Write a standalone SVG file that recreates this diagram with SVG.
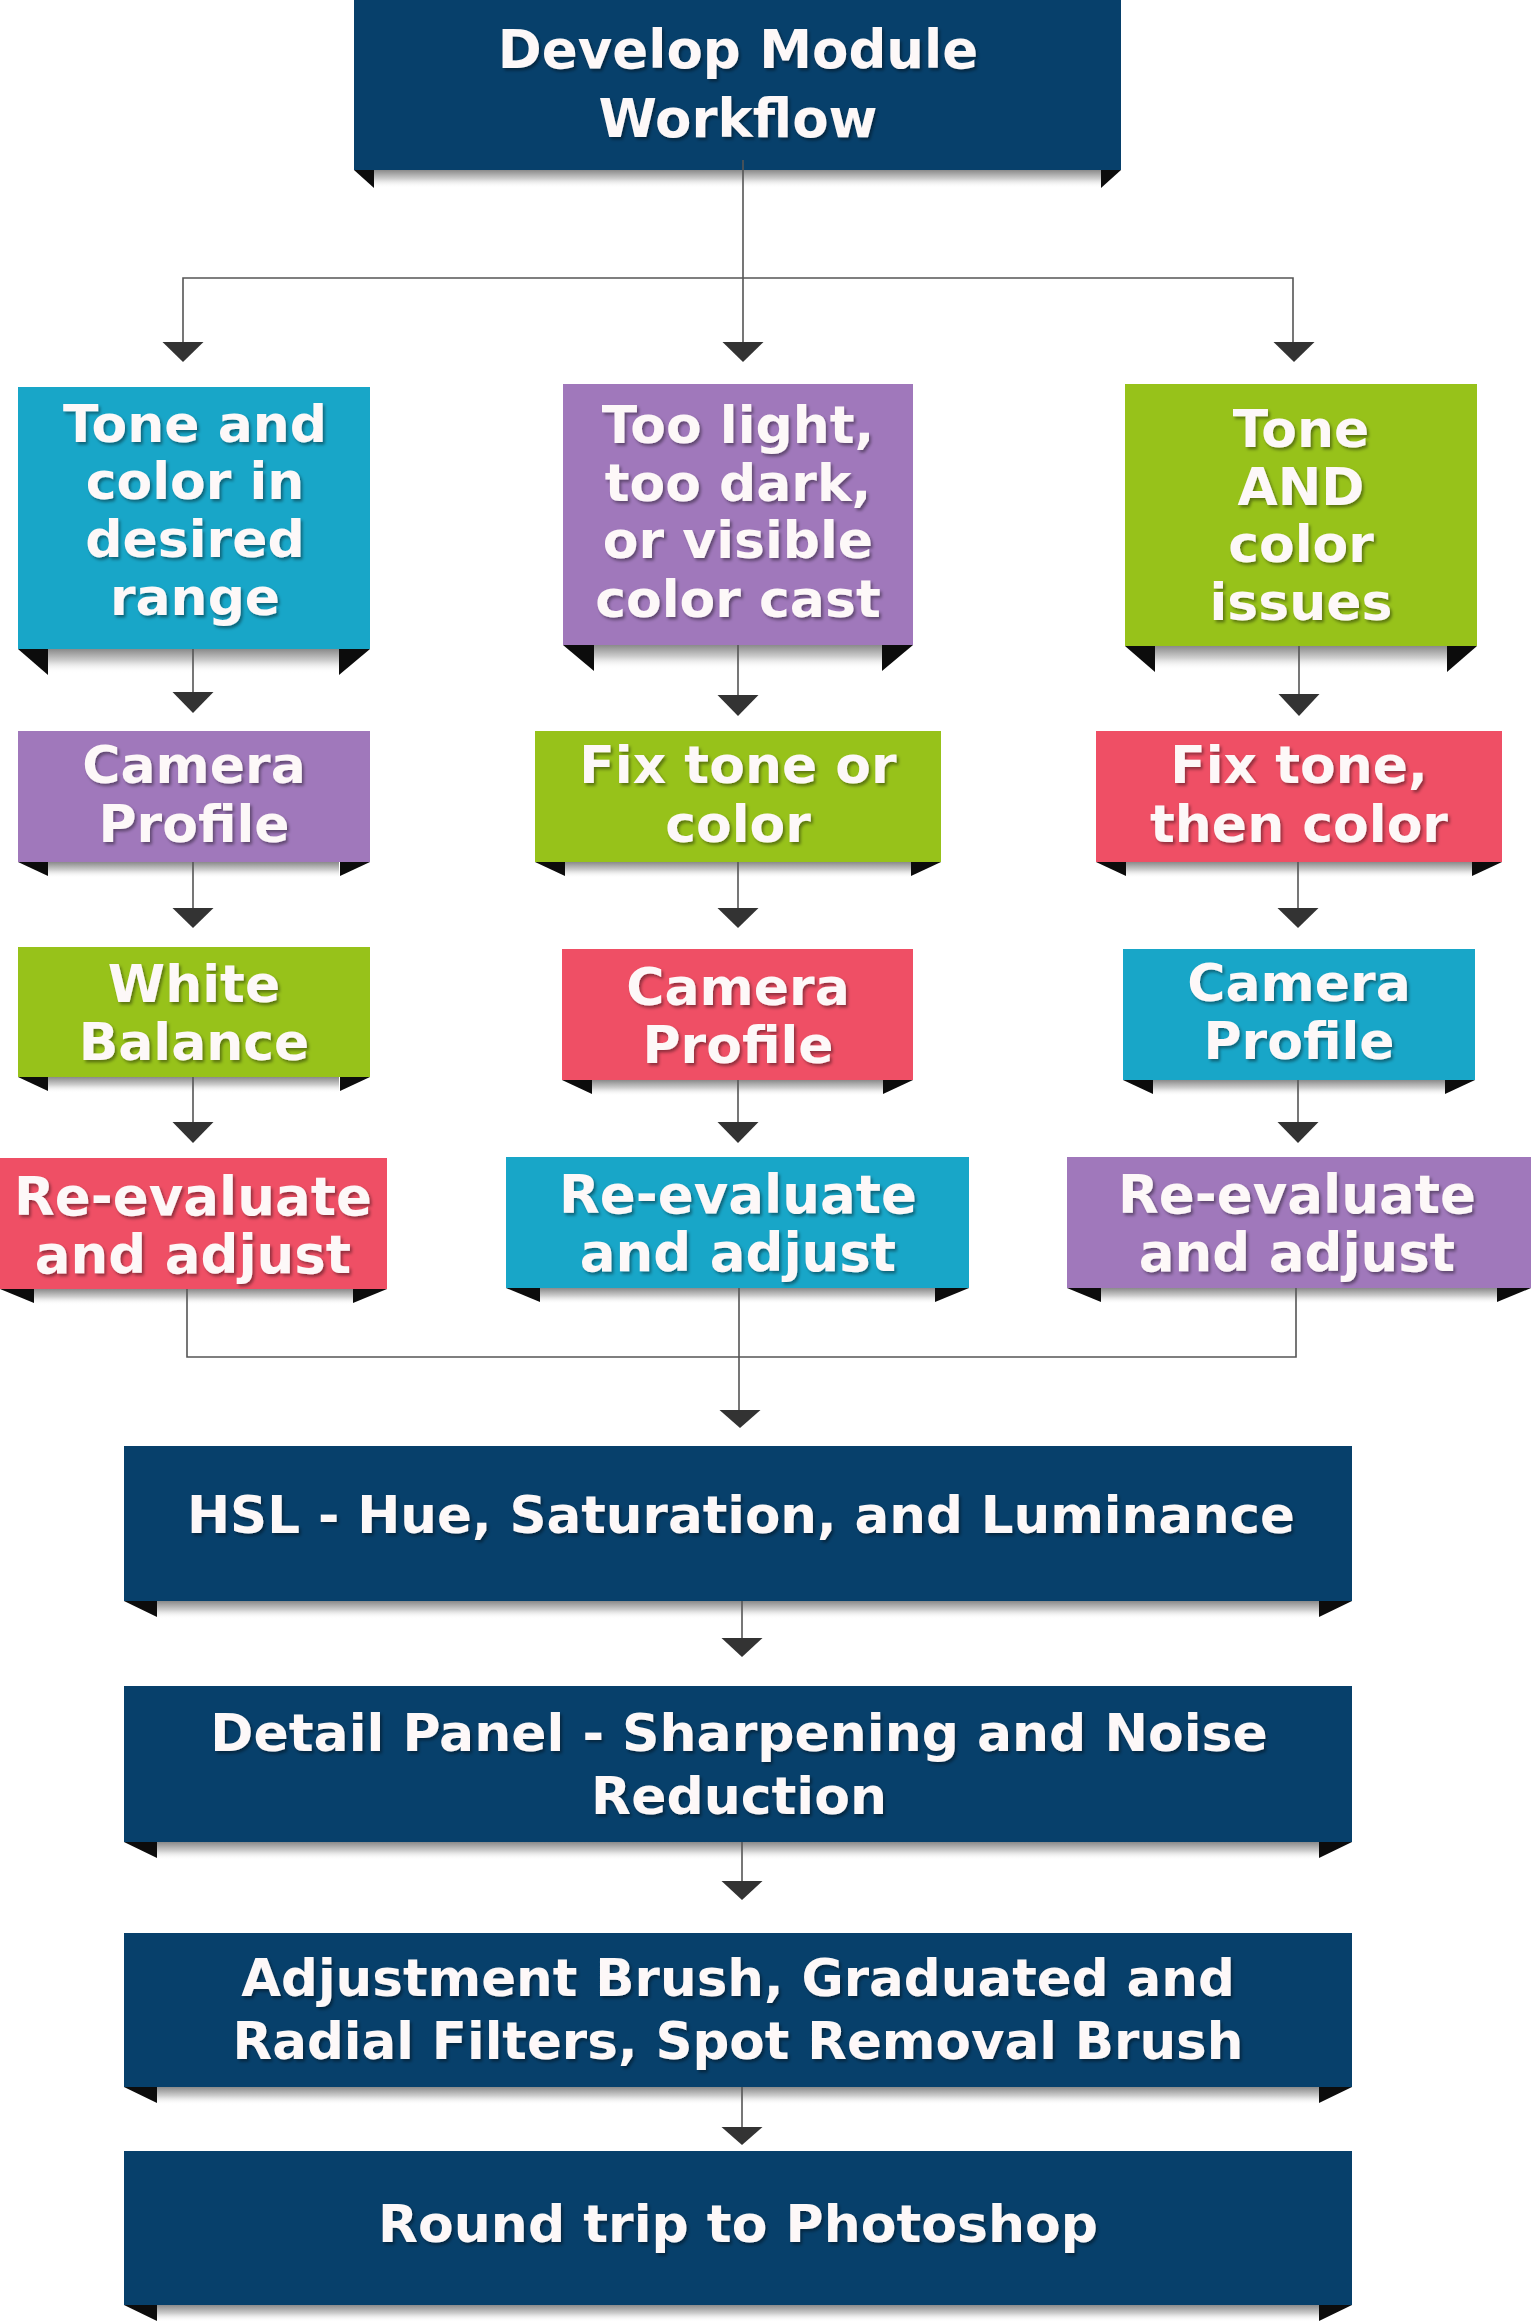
<svg xmlns="http://www.w3.org/2000/svg" width="1531" height="2322" viewBox="0 0 1531 2322">
<defs>
<style>
.t{font-family:"DejaVu Sans","Liberation Sans",sans-serif;font-weight:bold;fill:#fdf8f8;text-anchor:middle;filter:url(#ts)}
.s52{font-size:52px}
.s53{font-size:53px}
.navy{fill:#07406b}
.teal{fill:#18a6c8}
.purple{fill:#a078bb}
.green{fill:#97c21a}
.red{fill:#ef4f65}
.tab{fill:#0c0c0c}
.sh{fill:url(#shg)}
.ln{stroke:#555;stroke-width:1.6;fill:none}
.ah{fill:#333}
</style>
<filter id="ts" x="-10%" y="-30%" width="120%" height="160%">
<feDropShadow dx="2" dy="2.5" stdDeviation="1.6" flood-color="#000" flood-opacity="0.4"/>
</filter>
<linearGradient id="shg" x1="0" y1="0" x2="0" y2="1">
<stop offset="0" stop-color="#8a8a8a"/>
<stop offset="0.5" stop-color="#d0d0d0"/>
<stop offset="1" stop-color="#fff" stop-opacity="0"/>
</linearGradient>
</defs>
<rect width="1531" height="2322" fill="#fff"/>

<g id="n-top">
<rect class="sh" x="374" y="170" width="727" height="18"/>
<rect class="navy" x="354" y="0" width="767" height="170"/>
<path class="tab" d="M354 170H374V188Z"/>
<path class="tab" d="M1121 170H1101V188Z"/>
<text class="t s53" x="738" y="68">Develop Module</text>
<text class="t s53" x="738" y="137">Workflow</text>
</g>

<g id="n-l1">
<rect class="sh" x="48" y="649" width="291" height="24"/>
<rect class="teal" x="18" y="387" width="352" height="262"/>
<path class="tab" d="M18 649H48V675Z"/>
<path class="tab" d="M370 649H339V675Z"/>
<text class="t s52" x="195" y="442">Tone and</text>
<text class="t s52" x="195" y="499">color in</text>
<text class="t s52" x="195" y="557">desired</text>
<text class="t s52" x="195" y="615">range</text>
</g>

<g id="n-m1">
<rect class="sh" x="593" y="645" width="290" height="24"/>
<rect class="purple" x="563" y="384" width="350" height="261"/>
<path class="tab" d="M563 645H594V671Z"/>
<path class="tab" d="M913 645H882V671Z"/>
<text class="t s52" x="738" y="443">Too light,</text>
<text class="t s52" x="738" y="501">too dark,</text>
<text class="t s52" x="738" y="558">or visible</text>
<text class="t s52" x="738" y="617">color cast</text>
</g>

<g id="n-r1">
<rect class="sh" x="1155" y="646" width="292" height="24"/>
<rect class="green" x="1125" y="384" width="352" height="262"/>
<path class="tab" d="M1125 646H1155V672Z"/>
<path class="tab" d="M1477 646H1447V672Z"/>
<text class="t s52" x="1301" y="447">Tone</text>
<text class="t s52" x="1301" y="505">AND</text>
<text class="t s52" x="1301" y="562">color</text>
<text class="t s52" x="1301" y="620">issues</text>
</g>

<g id="n-l2">
<rect class="sh" x="48" y="862" width="291" height="16"/>
<rect class="purple" x="18" y="731" width="352" height="131"/>
<path class="tab" d="M18 862H48V876Z"/>
<path class="tab" d="M370 862H340V876Z"/>
<text class="t s52" x="194" y="783">Camera</text>
<text class="t s52" x="194" y="842">Profile</text>
</g>

<g id="n-m2">
<rect class="sh" x="565" y="862" width="346" height="16"/>
<rect class="green" x="535" y="731" width="406" height="131"/>
<path class="tab" d="M535 862H565V876Z"/>
<path class="tab" d="M941 862H911V876Z"/>
<text class="t s52" x="738" y="783">Fix tone or</text>
<text class="t s52" x="738" y="842">color</text>
</g>

<g id="n-r2">
<rect class="sh" x="1126" y="862" width="346" height="16"/>
<rect class="red" x="1096" y="731" width="406" height="131"/>
<path class="tab" d="M1096 862H1126V876Z"/>
<path class="tab" d="M1502 862H1472V876Z"/>
<text class="t s52" x="1299" y="783">Fix tone,</text>
<text class="t s52" x="1299" y="842">then color</text>
</g>

<g id="n-l3">
<rect class="sh" x="48" y="1077" width="291" height="16"/>
<rect class="green" x="18" y="947" width="352" height="130"/>
<path class="tab" d="M18 1077H48V1091Z"/>
<path class="tab" d="M370 1077H340V1091Z"/>
<text class="t s52" x="194" y="1002">White</text>
<text class="t s52" x="194" y="1060">Balance</text>
</g>

<g id="n-m3">
<rect class="sh" x="592" y="1080" width="291" height="16"/>
<rect class="red" x="562" y="949" width="351" height="131"/>
<path class="tab" d="M562 1080H592V1094Z"/>
<path class="tab" d="M913 1080H883V1094Z"/>
<text class="t s52" x="738" y="1005">Camera</text>
<text class="t s52" x="738" y="1063">Profile</text>
</g>

<g id="n-r3">
<rect class="sh" x="1153" y="1080" width="292" height="16"/>
<rect class="teal" x="1123" y="949" width="352" height="131"/>
<path class="tab" d="M1123 1080H1153V1094Z"/>
<path class="tab" d="M1475 1080H1445V1094Z"/>
<text class="t s52" x="1299" y="1001">Camera</text>
<text class="t s52" x="1299" y="1059">Profile</text>
</g>

<g id="n-l4">
<rect class="sh" x="34" y="1289" width="319" height="16"/>
<rect class="red" x="0" y="1158" width="387" height="131"/>
<path class="tab" d="M0 1289H34V1303Z"/>
<path class="tab" d="M387 1289H353V1303Z"/>
<text class="t s53" x="193" y="1215">Re-evaluate</text>
<text class="t s53" x="193" y="1273">and adjust</text>
</g>

<g id="n-m4">
<rect class="sh" x="540" y="1288" width="395" height="16"/>
<rect class="teal" x="506" y="1157" width="463" height="131"/>
<path class="tab" d="M506 1288H540V1302Z"/>
<path class="tab" d="M969 1288H935V1302Z"/>
<text class="t s53" x="738" y="1213">Re-evaluate</text>
<text class="t s53" x="738" y="1271">and adjust</text>
</g>

<g id="n-r4">
<rect class="sh" x="1101" y="1288" width="396" height="16"/>
<rect class="purple" x="1067" y="1157" width="464" height="131"/>
<path class="tab" d="M1067 1288H1101V1302Z"/>
<path class="tab" d="M1531 1288H1497V1302Z"/>
<text class="t s53" x="1297" y="1213">Re-evaluate</text>
<text class="t s53" x="1297" y="1271">and adjust</text>
</g>

<g id="n-hsl">
<rect class="sh" x="157" y="1601" width="1162" height="18"/>
<rect class="navy" x="124" y="1446" width="1228" height="155"/>
<path class="tab" d="M124 1601H157V1617Z"/>
<path class="tab" d="M1352 1601H1319V1617Z"/>
<text class="t" style="font-size:51.5px" x="741" y="1533">HSL - Hue, Saturation, and Luminance</text>
</g>

<g id="n-detail">
<rect class="sh" x="157" y="1842" width="1162" height="18"/>
<rect class="navy" x="124" y="1686" width="1228" height="156"/>
<path class="tab" d="M124 1842H157V1858Z"/>
<path class="tab" d="M1352 1842H1319V1858Z"/>
<text class="t s52" x="739" y="1751">Detail Panel - Sharpening and Noise</text>
<text class="t s52" x="739" y="1814">Reduction</text>
</g>

<g id="n-adjust">
<rect class="sh" x="157" y="2087" width="1162" height="18"/>
<rect class="navy" x="124" y="1933" width="1228" height="154"/>
<path class="tab" d="M124 2087H157V2103Z"/>
<path class="tab" d="M1352 2087H1319V2103Z"/>
<text class="t" style="font-size:51.5px" x="738" y="1996">Adjustment Brush, Graduated and</text>
<text class="t" style="font-size:51.5px" x="738" y="2059">Radial Filters, Spot Removal Brush</text>
</g>

<g id="n-round">
<rect class="sh" x="157" y="2305" width="1162" height="17"/>
<rect class="navy" x="124" y="2151" width="1228" height="154"/>
<path class="tab" d="M124 2305H157V2321Z"/>
<path class="tab" d="M1352 2305H1319V2321Z"/>
<text class="t s52" x="738" y="2242">Round trip to Photoshop</text>
</g>

<g id="connectors">
<path class="ln" d="M743 160V342M183 342V278H1293V342"/>
<path class="ah" d="M162.5 342H203.5L183 362Z"/>
<path class="ah" d="M722.5 342H763.5L743 362Z"/>
<path class="ah" d="M1273.5 342H1314.5L1294 362Z"/>

<path class="ln" d="M193 649V692M738 645V695M1299 646V694"/>
<path class="ah" d="M172.5 692H213.5L193 713Z"/>
<path class="ah" d="M717.5 695H758.5L738 716Z"/>
<path class="ah" d="M1278.5 694H1319.5L1299 716Z"/>

<path class="ln" d="M193 862V908M738 862V908M1298 862V908"/>
<path class="ah" d="M172.5 908H213.5L193 928Z"/>
<path class="ah" d="M717.5 908H758.5L738 928Z"/>
<path class="ah" d="M1277.5 908H1318.5L1298 928Z"/>

<path class="ln" d="M193 1077V1122M738 1080V1122M1298 1080V1122"/>
<path class="ah" d="M172.5 1122H213.5L193 1143Z"/>
<path class="ah" d="M717.5 1122H758.5L738 1143Z"/>
<path class="ah" d="M1277.5 1122H1318.5L1298 1143Z"/>

<path class="ln" d="M187 1289V1357H1296V1288M739 1288V1410"/>
<path class="ah" d="M719.5 1410H760.5L740 1428Z"/>

<path class="ln" d="M742 1601V1638"/>
<path class="ah" d="M721.5 1638H762.5L742 1657Z"/>
<path class="ln" d="M742 1842V1881"/>
<path class="ah" d="M721.5 1881H762.5L742 1900Z"/>
<path class="ln" d="M742 2087V2127"/>
<path class="ah" d="M721.5 2127H762.5L742 2145Z"/>
</g>
</svg>
